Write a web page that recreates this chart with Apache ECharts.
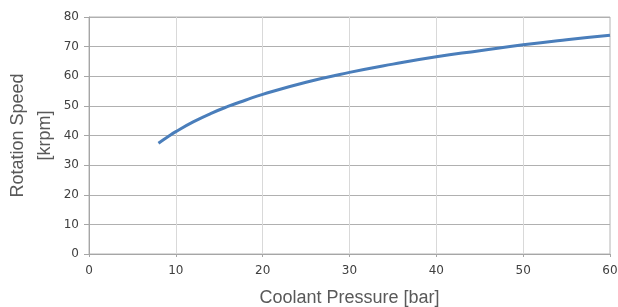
<!DOCTYPE html>
<html>
<head>
<meta charset="utf-8">
<script src="https://cdn.jsdelivr.net/npm/echarts@6/dist/echarts.min.js"></script>
<style>
  html, body { margin: 0; padding: 0; background: #fff; }
  #chart { width: 618px; height: 307px; }
</style>
</head>
<body>
<div id="chart"></div>
<script>
// coolant pressure [bar] and rotation speed [krpm]
var pressure = [8, 9, 10, 12, 14, 16, 18, 20, 25, 30, 35, 40, 45, 50, 55, 60];
var speed = [37.4, 39.4, 41.3, 44.6, 47.4, 49.8, 51.9, 53.9, 58.0, 61.3, 64.1, 66.6, 68.6, 70.6, 72.3, 73.8];

var xTicks = [0, 10, 20, 30, 40, 50, 60];
var yTicks = [0, 10, 20, 30, 40, 50, 60, 70, 80];

var points = [];
for (var i = 0; i < pressure.length; i++) {
    points.push([pressure[i], speed[i]]);
}

var myChart = echarts.init(document.getElementById('chart'));
var option = {
    animation: false,
    textStyle: {
        fontFamily: 'Liberation Sans, Arial, sans-serif'
    },
    grid: {
        show: true,
        left: 89,
        right: 8,
        top: 17,
        bottom: 53,
        containLabel: false,
        outerBoundsMode: 'none',
        borderColor: '#b4b4b4',
        borderWidth: 1
    },
    xAxis: {
        type: 'value',
        min: xTicks[0],
        max: xTicks[xTicks.length - 1],
        interval: 10,
        name: 'Coolant Pressure [bar]',
        nameLocation: 'middle',
        nameGap: 35,
        nameTextStyle: {
            color: '#595959',
            fontSize: 18
        },
        axisLine: {
            show: true,
            lineStyle: { color: '#a6a6a6' }
        },
        axisTick: {
            show: true,
            length: 3,
            lineStyle: { color: '#a6a6a6' }
        },
        axisLabel: {
            color: '#404040',
            fontFamily: 'DejaVu Sans',
            fontSize: 12,
            margin: 11
        },
        splitLine: {
            show: true,
            lineStyle: { color: '#d9d9d9', width: 1 }
        }
    },
    yAxis: {
        type: 'value',
        min: yTicks[0],
        max: yTicks[yTicks.length - 1],
        interval: 10,
        name: 'Rotation Speed\n[krpm]',
        nameLocation: 'middle',
        nameGap: 30,
        nameMoveOverlap: false,
        nameTextStyle: {
            color: '#595959',
            fontSize: 18,
            lineHeight: 27
        },
        axisLine: {
            show: true,
            lineStyle: { color: '#a6a6a6' }
        },
        axisTick: {
            show: true,
            length: 5,
            lineStyle: { color: '#a6a6a6' }
        },
        axisLabel: {
            color: '#404040',
            fontFamily: 'DejaVu Sans',
            fontSize: 12,
            margin: 10
        },
        splitLine: {
            show: true,
            lineStyle: { color: '#b0b0b0', width: 1 }
        }
    },
    series: [{
        type: 'line',
        data: points,
        smooth: true,
        showSymbol: false,
        lineStyle: {
            color: '#4a7ebb',
            width: 3
        }
    }]
};
myChart.setOption(option);
</script>
</body>
</html>
